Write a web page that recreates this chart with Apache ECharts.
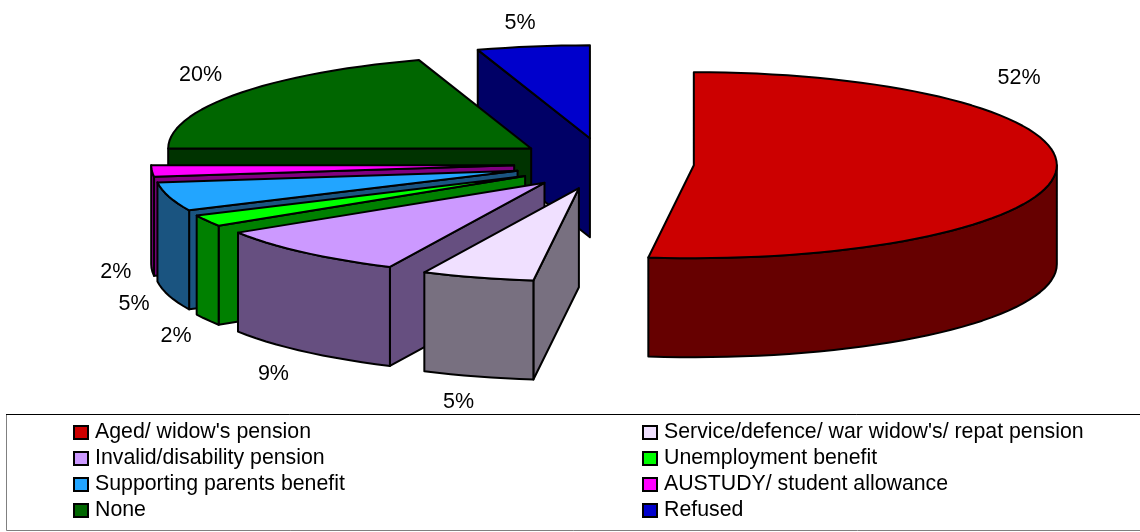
<!DOCTYPE html>
<html>
<head>
<meta charset="utf-8">
<script src="https://cdn.jsdelivr.net/npm/echarts@6/dist/echarts.min.js"></script>
<style>html,body{margin:0;padding:0;background:#fff}#main{width:1140px;height:532px}</style>
</head>
<body>
<div id="main"></div>
<script>
// Income source shares, in percent, clockwise from twelve o'clock
const categories = ["Aged/ widow's pension", "Service/defence/ war widow's/ repat pension", "Invalid/disability pension", "Unemployment benefit", "Supporting parents benefit", "AUSTUDY/ student allowance", "None", "Refused"];
const shares = [52, 5, 9, 2, 5, 2, 20, 5];
const topColors = ['#CC0000', '#F0E0FF', '#CC99FF', '#00FF00', '#22A5FF', '#FF00FF', '#006600', '#0000CC'];
const wallColors = ['#660000', '#787080', '#664F80', '#008000', '#1A5480', '#800080', '#003300', '#000066'];

// Pseudo-3D pie geometry
const pie = { cx: 604, cy: 163.6, rx: 363, ry: 93, depth: 99, explodeX: 90, explodeY: 25.6 };
// Label nudges from the middle of each slice's rim
const labelNudges = [[-37, -93], [-19, 125], [-31, 122], [-31, 115], [-35, 107], [-36, 101], [-37, -19], [-13, -23]];

const total = shares.reduce((a, b) => a + b, 0);
const rad = d => d * Math.PI / 180;
const startAngles = [];
shares.reduce((acc, v, i) => { startAngles[i] = acc; return acc + v / total * 360; }, 0);

function rimPoint(apex, deg, drop) {
  return [apex[0] + pie.rx * Math.sin(rad(deg)), apex[1] - pie.ry * Math.cos(rad(deg)) + drop];
}
function arc(apex, from, to, drop) {
  const n = Math.max(2, Math.ceil((to - from) / 2.5));
  const pts = [];
  for (let i = 0; i <= n; i++) pts.push(rimPoint(apex, from + (to - from) * i / n, drop));
  return pts;
}
function poly(points, fill) {
  return { type: 'polygon', shape: { points }, style: { fill, stroke: '#000', lineWidth: 2, lineJoin: 'round' } };
}

function renderSlice(index) {
  return function () {
    const a0 = startAngles[index];
    const a1 = a0 + shares[index] / total * 360;
    const mid = (a0 + a1) / 2;
    const apex = [pie.cx + pie.explodeX * Math.sin(rad(mid)), pie.cy - pie.explodeY * Math.cos(rad(mid))];
    const under = [apex[0], apex[1] + pie.depth];
    const wall = wallColors[index];
    const children = [];

    // Radial faces that turn toward the viewer
    if (Math.sin(rad(a0)) < -1e-6) {
      children.push(poly([apex, rimPoint(apex, a0, 0), rimPoint(apex, a0, pie.depth), under], wall));
    }
    if (Math.sin(rad(a1)) > 1e-6) {
      children.push(poly([apex, rimPoint(apex, a1, 0), rimPoint(apex, a1, pie.depth), under], wall));
    }
    // Outer wall along the front half of the ellipse
    const w0 = Math.max(a0, 90), w1 = Math.min(a1, 270);
    if (w1 > w0) {
      children.push(poly(arc(apex, w0, w1, 0).concat(arc(apex, w0, w1, pie.depth).reverse()), wall));
    }
    // Top face
    children.push(poly([apex].concat(arc(apex, a0, a1, 0)), topColors[index]));
    // Percentage label
    const rim = rimPoint(apex, mid, 0);
    const nudge = labelNudges[index];
    children.push({
      type: 'text',
      style: {
        x: rim[0] + nudge[0], y: rim[1] + nudge[1], text: shares[index] + '%',
        fill: '#000', font: '21.5px "Liberation Sans", Arial, sans-serif',
        textAlign: 'center', textVerticalAlign: 'middle'
      }
    });
    return { type: 'group', children };
  };
}

// Painted from the back of the pie to the front
const paintOrder = [7, 6, 5, 4, 3, 2, 1, 0];
const series = paintOrder.map(i => ({
  type: 'custom',
  name: categories[i],
  coordinateSystem: 'none',
  silent: true,
  itemStyle: { color: topColors[i] },
  data: [[shares[i]]],
  renderItem: renderSlice(i)
}));

const legendBase = {
  orient: 'vertical',
  selectedMode: false,
  icon: 'rect',
  itemWidth: 14,
  itemHeight: 13,
  itemGap: 5,
  padding: 0,
  top: 422,
  textStyle: { color: '#000', fontSize: 21.3, fontFamily: '"Liberation Sans", Arial, sans-serif', padding: [0, 0, 0, 2], height: 18, lineHeight: 18 },
  itemStyle: { borderColor: '#000', borderWidth: 2 }
};

const chart = echarts.init(document.getElementById('main'), null, { renderer: 'canvas' });
chart.setOption({
  animation: false,
  backgroundColor: '#fff',
  tooltip: { show: false },
  legend: [
    Object.assign({}, legendBase, { left: 73, data: categories.filter((_, i) => i % 2 === 0) }),
    Object.assign({}, legendBase, { left: 642, data: categories.filter((_, i) => i % 2 === 1) })
  ],
  graphic: [
    { type: 'rect', z: -1, shape: { x: 6.5, y: 414.5, width: 1140, height: 116 }, style: { fill: 'none', stroke: '#808080', lineWidth: 1 } },
    { type: 'line', z: -1, shape: { x1: 6, y1: 414.5, x2: 1140, y2: 414.5 }, style: { stroke: '#000', lineWidth: 1 } }
  ],
  series
});
</script>
</body>
</html>
